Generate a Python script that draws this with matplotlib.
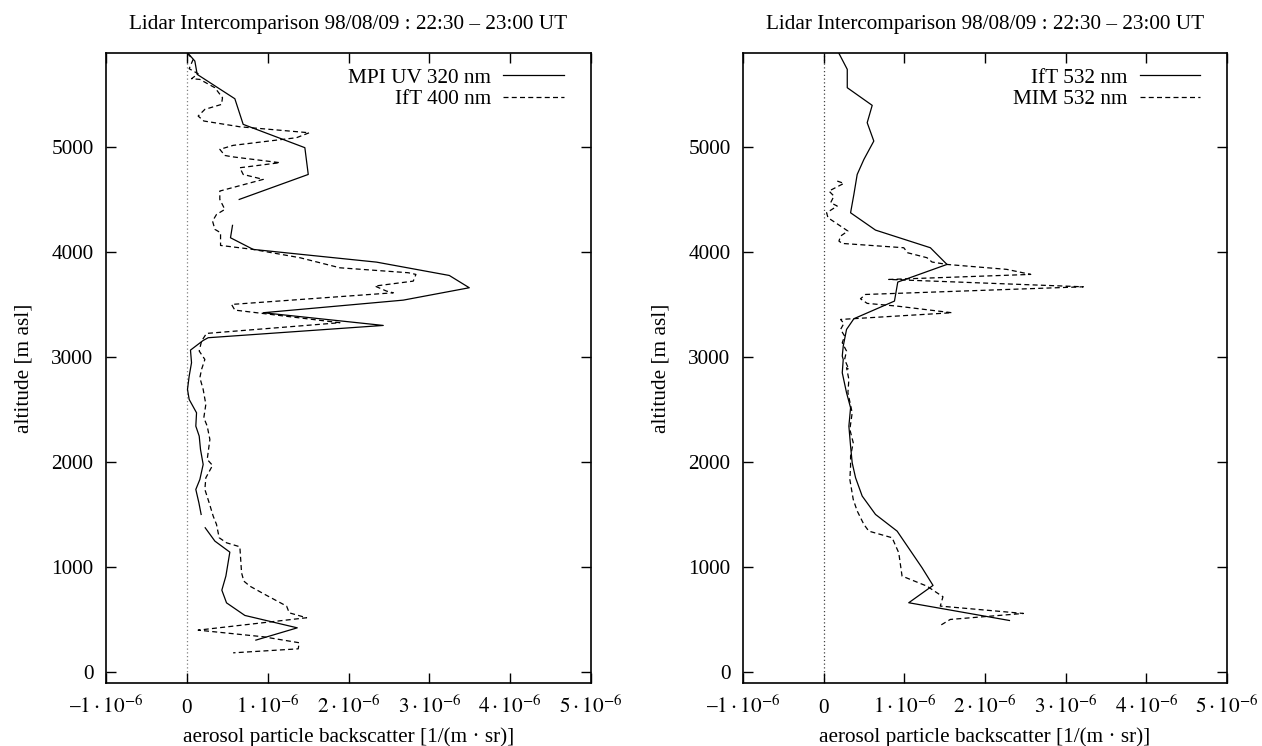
import matplotlib
matplotlib.use("Agg")
import matplotlib.pyplot as plt
from matplotlib.ticker import FixedLocator, FixedFormatter

plt.rcParams['font.family'] = ['Liberation Serif', 'DejaVu Serif']
plt.rcParams['mathtext.fontset'] = 'stix'

# backscatter in units of 1e-6 1/(m sr), altitude in m asl
mpi_uv_x = [0.016, 0.099, 0.128, 0.594, 0.697, 1.460, 1.502, 0.648, None,
            0.565, 0.540, 0.821, 2.347, 3.247, 3.494, 2.677, 0.945, 2.430, 0.264,
            0.202, 0.045, 0.058, 0.029, 0.008, 0.029, 0.120, 0.111, 0.153, 0.169,
            0.202, 0.161, 0.111, 0.149, 0.177, None,
            0.227, 0.347, 0.532, 0.483, 0.433, 0.491, 0.718, 1.366, 0.854]
mpi_uv_z = [5896, 5823, 5696, 5464, 5220, 4998, 4743, 4505, None,
            4258, 4140, 4029, 3908, 3781, 3664, 3546, 3426, 3305, 3188,
            3162, 3070, 2950, 2823, 2696, 2600, 2473, 2346, 2251, 2124,
            1981, 1838, 1743, 1616, 1505, None,
            1378, 1251, 1146, 918, 784, 663, 543, 425, 308]

ift400_x = [0.004, 0.078, 0.029, 0.140, 0.058, 0.161, 0.347, 0.441, 0.429, 0.223,
            0.140, 0.210, 0.656, 1.514, 1.357, 0.573, 0.408, 0.470, 0.553, 1.151,
            0.656, 0.697, 0.945, 0.408, 0.408, 0.470, 0.367, 0.318, 0.347, 0.417,
            0.417, 0.821, 1.399, 1.894, 2.739, 2.834, 2.801, 2.327, 2.471, 2.554,
            0.553, 0.594, 1.894, 0.243, 0.182, 0.153, 0.223, 0.182, 0.161, 0.202,
            0.235, 0.210, 0.252, 0.285, 0.252, 0.318, 0.235, 0.223, 0.276, 0.326,
            0.367, 0.400, 0.491, 0.656, 0.677, 0.705, 0.780, 0.965, 1.234, 1.267,
            1.481, 0.140, 0.945, 1.390, 1.378, 0.573]
ift400_z = [5896, 5839, 5750, 5702, 5655, 5648, 5569, 5474, 5410, 5363,
            5299, 5252, 5197, 5140, 5093, 5020, 4982, 4924, 4912, 4855,
            4807, 4743, 4696, 4585, 4505, 4410, 4362, 4299, 4220, 4188,
            4067, 4029, 3950, 3854, 3807, 3791, 3727, 3680, 3632, 3616,
            3505, 3451, 3331, 3229, 3156, 3061, 2981, 2886, 2807, 2696,
            2553, 2426, 2346, 2219, 2029, 1972, 1854, 1743, 1616, 1489,
            1410, 1283, 1235, 1197, 949, 870, 822, 743, 632, 568,
            521, 403, 340, 283, 225, 187]

ift532_x = [0.190, 0.293, 0.293, 0.602, 0.540, 0.622, 0.499, 0.416, 0.375, 0.334,
            0.643, 1.323, 1.529, 0.919, 0.878, 0.375, 0.284, 0.243, 0.231, 0.243,
            0.231, 0.284, 0.334, 0.313, 0.334, 0.354, 0.396, 0.478, 0.643, 0.911,
            1.220, 1.356, 1.055, 2.303]
ift532_z = [5896, 5744, 5569, 5401, 5236, 5061, 4886, 4743, 4553, 4378,
            4213, 4045, 3886, 3718, 3537, 3369, 3267, 3108, 3013, 2981,
            2854, 2664, 2521, 2346, 2156, 1997, 1854, 1680, 1505, 1346,
            997, 829, 664, 495]

mim532_x = [0.169, 0.251, 0.066, 0.128, 0.087, 0.169, 0.037, 0.054, 0.210, 0.301,
            0.210, 0.190, 0.231, 0.993, 1.042, 1.281, 1.343, 1.529, 2.270, 2.567,
            0.808, 3.218, 0.519, 0.457, 0.540, 0.911, 1.590, 0.210, 0.251, 0.210,
            0.260, 0.231, 0.284, 0.260, 0.313, 0.284, 0.313, 0.301, 0.354, 0.325,
            0.367, 0.334, 0.334, 0.325, 0.367, 0.416, 0.499, 0.560, 0.849, 0.931,
            0.972, 1.281, 1.479, 1.446, 2.476, 1.570, 1.446]
mim532_z = [4680, 4658, 4585, 4537, 4474, 4442, 4378, 4331, 4251, 4204,
            4156, 4108, 4086, 4045, 3997, 3950, 3909, 3886, 3839, 3791,
            3743, 3673, 3600, 3559, 3515, 3489, 3426, 3362, 3324, 3267,
            3204, 3140, 3061, 2981, 2886, 2902, 2791, 2664, 2473, 2315,
            2188, 2061, 1965, 1838, 1648, 1538, 1410, 1346, 1283, 1140,
            918, 822, 721, 632, 562, 505, 448]

x_ticks = [-1, 0, 1, 2, 3, 4, 5]
x_labels = ['$\u20131\\cdot10^{-6}$', '0', r'$1\cdot10^{-6}$', r'$2\cdot10^{-6}$',
            r'$3\cdot10^{-6}$', r'$4\cdot10^{-6}$', r'$5\cdot10^{-6}$']
y_ticks = [0, 1000, 2000, 3000, 4000, 5000]

title = 'Lidar Intercomparison 98/08/09 : 22:30 \u2013 23:00 UT'
fs = 15.3


def scale(v):
    return [None if a is None else a * 1e-6 for a in v]


fig = plt.figure(figsize=(12.62, 7.46), dpi=100)
ax1 = fig.add_axes([0.0840, 0.0845, 0.3843, 0.8445])
ax2 = fig.add_axes([0.5887, 0.0845, 0.3836, 0.8445])

panels = [
    (ax1, mpi_uv_x, mpi_uv_z, 'MPI UV 320 nm', ift400_x, ift400_z, 'IfT 400 nm', '#808080'),
    (ax2, ift532_x, ift532_z, 'IfT 532 nm', mim532_x, mim532_z, 'MIM 532 nm', '#404040'),
]

for ax, sx, sz, slab, dx, dz, dlab, zc in panels:
    ax.axvline(0, color=zc, lw=0.9, ls=(0, (1, 2)), zorder=1)
    ax.plot(scale(sx), sz, color='black', lw=0.9, label=slab)
    ax.plot(scale(dx), dz, color='black', lw=0.9, dashes=(4.0, 2.6), label=dlab)
    ax.set_xlim(-1e-6, 5e-6)
    ax.set_ylim(-100, 5900)
    ax.xaxis.set_major_locator(FixedLocator([t * 1e-6 for t in x_ticks]))
    ax.xaxis.set_major_formatter(FixedFormatter(x_labels))
    ax.set_yticks(y_ticks)
    ax.tick_params(direction='in', length=7, width=1.0, top=True, right=True,
                   labelsize=fs)
    ax.tick_params(axis='y', pad=9)
    ax.tick_params(axis='x', pad=21.6)
    for lab in ax.get_xticklabels():
        lab.set_verticalalignment('baseline')
    for sp in ax.spines.values():
        sp.set_linewidth(1.2)
    ax.set_xlabel('aerosol particle backscatter [1/(m \u00b7 sr)]', fontsize=fs, labelpad=6.5)
    ax.set_ylabel('altitude [m asl]', fontsize=fs, labelpad=13)
    ax.set_title(title, fontsize=fs, pad=17.3)
    ax.legend(loc='upper right', frameon=False, markerfirst=False, fontsize=fs,
              handlelength=2.85, handletextpad=0.58, labelspacing=0.08,
              borderaxespad=0.3, bbox_to_anchor=(0.975, 1.0))

fig.savefig('out.png', dpi=100)
